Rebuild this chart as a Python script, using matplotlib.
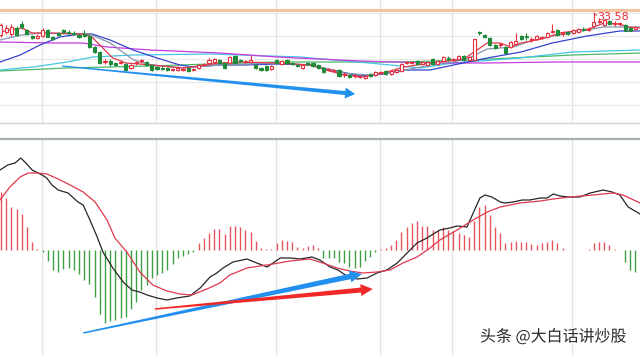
import numpy as np
import matplotlib.pyplot as plt
from matplotlib.patches import Polygon, Rectangle
from matplotlib.transforms import IdentityTransform
import matplotlib.patheffects as pe

# K-line data (price)
opens = [31.38, 31.68, 31.48, 32.08, 32.48, 31.88, 31.28, 31.08, 31.28, 31.88,
         31.18, 31.58, 31.88, 31.68, 31.58, 31.38, 31.48, 31.28, 30.18, 29.68,
         28.68, 28.78, 28.58, 28.58, 28.48, 28.08, 28.58, 28.78, 28.68, 28.38,
         28.18, 28.08, 28.08, 27.88, 27.88, 27.88, 28.08, 27.88, 28.08, 28.38,
         28.58, 28.68, 28.88, 28.58, 28.58, 29.28, 28.88, 28.68, 28.68, 28.38,
         28.08, 28.28, 27.98, 28.88, 28.48, 28.88, 28.58, 28.38, 28.08, 28.58,
         28.58, 28.38, 28.08, 27.88, 27.78, 27.88, 27.38, 27.38, 27.28, 27.18,
         27.08, 27.48, 27.38, 27.58, 27.78, 27.48, 27.68, 27.78, 28.58, 28.58,
         28.78, 28.48, 28.38, 28.98, 28.48, 28.78, 29.08, 28.88, 28.98, 29.28,
         28.88, 28.88, 31.68, 31.38, 31.08, 30.38, 30.38, 30.18, 30.18, 30.48,
         31.28, 31.28, 30.88, 30.98, 31.08, 31.18, 31.68, 31.88, 31.48, 31.68,
         31.58, 31.68, 31.98, 31.88, 32.28, 32.68, 32.38, 32.78, 32.48, 32.48,
         32.38, 32.08, 31.98]
closes = [32.38, 32.08, 32.18, 31.38, 32.18, 31.48, 31.08, 31.28, 31.88, 31.18,
          30.98, 31.38, 31.68, 31.58, 31.48, 31.18, 31.28, 30.18, 29.68, 28.58,
          28.78, 28.48, 28.38, 28.68, 27.88, 28.38, 28.68, 28.88, 28.38, 27.88,
          27.98, 27.98, 27.88, 27.98, 28.08, 27.98, 27.78, 27.98, 28.38, 28.48,
          28.88, 28.98, 28.58, 28.08, 29.18, 28.58, 28.78, 28.78, 28.88, 28.08,
          27.88, 27.88, 28.28, 28.58, 28.78, 28.58, 28.48, 28.28, 28.38, 28.48,
          28.28, 28.08, 27.68, 27.98, 27.88, 27.28, 27.48, 27.18, 27.38, 27.28,
          27.28, 27.28, 27.68, 27.68, 27.48, 27.78, 27.88, 28.48, 28.68, 28.68,
          28.48, 28.68, 28.68, 28.48, 28.78, 29.18, 28.98, 28.98, 29.28, 28.88,
          29.18, 30.98, 31.58, 31.18, 30.38, 30.08, 30.48, 29.58, 30.68, 30.78,
          30.98, 31.18, 30.98, 31.28, 31.18, 31.58, 31.78, 31.38, 31.58, 31.48,
          31.88, 31.98, 31.88, 31.98, 32.68, 32.78, 32.88, 32.48, 32.58, 32.58,
          31.78, 31.78, 32.18]
highs = [32.58, 32.38, 32.48, 32.28, 32.78, 31.98, 31.38, 31.48, 32.08, 31.98,
         31.28, 31.68, 31.98, 31.88, 31.78, 31.48, 31.88, 31.48, 30.28, 29.78,
         28.98, 28.98, 28.68, 28.88, 28.58, 28.48, 28.78, 28.98, 28.78, 28.48,
         28.28, 28.28, 28.18, 28.08, 28.28, 28.08, 28.18, 28.08, 28.48, 28.58,
         29.08, 29.08, 28.98, 28.68, 29.28, 29.38, 28.98, 28.88, 29.38, 28.48,
         28.18, 28.38, 28.38, 28.98, 28.88, 28.98, 28.68, 28.48, 28.48, 28.68,
         28.68, 28.48, 28.18, 28.08, 27.98, 27.98, 27.68, 27.48, 27.48, 27.38,
         27.38, 27.58, 27.78, 27.78, 27.88, 27.88, 27.98, 28.58, 28.78, 28.78,
         28.88, 28.78, 28.78, 29.08, 28.88, 29.28, 29.28, 29.08, 29.38, 29.38,
         29.28, 30.98, 31.78, 31.48, 31.18, 30.48, 30.58, 30.28, 30.78, 31.58,
         31.38, 31.58, 31.18, 31.38, 31.28, 31.68, 32.48, 31.98, 31.78, 31.78,
         31.98, 32.08, 32.18, 32.18, 33.58, 33.08, 32.98, 32.88, 32.78, 32.68,
         32.48, 32.18, 32.28]
lows = [31.18, 31.48, 31.28, 31.28, 31.98, 31.38, 30.98, 30.98, 31.18, 31.18,
        30.88, 31.28, 31.58, 31.48, 31.38, 31.08, 31.18, 30.08, 29.58, 28.48,
        28.48, 28.28, 28.28, 28.48, 27.78, 27.98, 28.38, 28.58, 28.28, 27.78,
        27.88, 27.88, 27.78, 27.78, 27.78, 27.78, 27.68, 27.78, 27.98, 28.28,
        28.48, 28.58, 28.48, 27.98, 28.48, 28.48, 28.68, 28.58, 28.58, 27.98,
        27.78, 27.78, 27.88, 28.48, 28.38, 28.48, 28.38, 28.18, 27.98, 28.38,
        28.18, 27.98, 27.58, 27.78, 27.68, 27.18, 27.18, 27.08, 27.08, 27.08,
        26.98, 27.18, 27.28, 27.48, 27.38, 27.38, 27.58, 27.68, 28.48, 28.48,
        28.38, 28.38, 28.28, 28.38, 28.38, 28.68, 28.78, 28.78, 28.88, 28.78,
        28.78, 28.78, 31.38, 31.08, 30.28, 29.98, 30.18, 29.48, 30.08, 30.38,
        30.88, 30.88, 30.68, 30.88, 30.98, 31.08, 31.58, 31.28, 31.28, 31.38,
        31.48, 31.58, 31.78, 31.78, 32.18, 32.58, 32.28, 32.38, 32.28, 32.28,
        31.78, 31.78, 31.88]

# moving averages (node index, price)
ma5_x = [-0.2, 4, 6, 10, 16, 17.5, 19, 21.5, 24, 29, 35, 39.5, 42, 46.5, 53, 59.5,
         62.5, 66, 69.5, 73.5, 77.5, 82.5, 89, 91, 93.5, 96, 98, 100, 104, 107.5,
         113, 116, 119, 120.5, 122.9]
ma5_y = [31.68, 32.08, 31.58, 31.58, 31.48, 31.18, 30.38, 29.08, 28.58, 28.38,
         28.08, 28.38, 28.58, 28.68, 28.58, 28.38, 27.88, 27.38, 27.18, 27.58,
         28.18, 28.58, 28.98, 29.68, 30.58, 30.58, 30.18, 30.58, 30.98, 31.58,
         31.98, 32.58, 32.48, 32.18, 32.08]
ma10_x = [-0.2, 4, 7.5, 13, 17, 21, 25.5, 29, 35, 42, 53, 59.5, 66, 70.5, 76, 82.5,
          87, 90, 93.5, 98.5, 103, 109.5, 115.8, 120.5, 122.9]
ma10_y = [30.88, 31.38, 31.58, 31.48, 31.48, 30.58, 28.88, 28.38, 28.08, 28.38,
          28.58, 28.38, 27.58, 27.38, 27.68, 28.38, 28.68, 29.08, 29.98, 30.18,
          30.98, 31.58, 32.18, 32.18, 32.18]
ma20_x = [-0.2, 3.7, 7.5, 11.3, 15.2, 17.5, 21, 25.4, 30, 34.4, 37, 42, 46.5, 53,
          59.5, 62, 69, 73.5, 77.3, 82.5, 87, 93.5, 100, 106, 112.7, 119, 122.9]
ma20_y = [28.68, 29.38, 30.38, 31.18, 31.48, 31.48, 30.88, 29.88, 29.08, 28.38,
          28.18, 28.38, 28.38, 28.48, 28.38, 28.08, 27.28, 27.48, 27.88, 27.88,
          28.38, 29.08, 29.68, 30.58, 31.28, 31.78, 31.78]
ma30_x = [-0.2, 9.4, 15.8, 20.4, 28.7, 42.1, 53.1, 69, 82.5, 93.5, 106.2, 122.9]
ma30_y = [30.68, 30.58, 30.58, 30.18, 29.88, 29.58, 29.18, 28.78, 28.58, 28.58,
          28.68, 28.68]
ma60_x = [-0.2, 6.2, 12.7, 17.7, 25.4, 40.2, 57.5, 72.9, 80.6, 86.9, 99.8, 110, 122.9]
ma60_y = [27.88, 28.18, 28.68, 29.18, 29.38, 29.48, 29.18, 28.48, 28.08, 28.58,
          29.08, 29.68, 29.88]
ma120_x = [-0.2, 12.7, 28.7, 40.2, 53.1, 76.7, 90.2, 110, 122.9]
ma120_y = [27.78, 28.08, 28.28, 28.48, 28.68, 28.68, 28.88, 29.38, 29.58]

high_label = "33.58"
ref_price = 33.88
price_grid = [33.58, 31.28, 28.98, 26.68, 24.38]
month_lines = [7.9, 29.8, 52.9, 72.9, 86.7, 109.8]

# MACD
macd_hist = [0.58, 0.52, 0.43, 0.41, 0.36, 0.23, 0.08, 0.01, -0.02, -0.11,
             -0.20, -0.22, -0.19, -0.18, -0.20, -0.24, -0.30, -0.34, -0.47, -0.64,
             -0.73, -0.71, -0.70, -0.68, -0.67, -0.59, -0.52, -0.40, -0.35, -0.28,
             -0.25, -0.23, -0.20, -0.14, -0.08, -0.06, -0.04, -0.02, 0.07, 0.12,
             0.17, 0.21, 0.21, 0.16, 0.24, 0.24, 0.23, 0.20, 0.18, 0.09,
             0.02, 0.01, 0.01, 0.07, 0.10, 0.09, 0.08, 0.03, 0.02, 0.04,
             0.05, 0.02, -0.08, -0.08, -0.08, -0.12, -0.13, -0.17, -0.18, -0.17,
             -0.11, -0.07, -0.02, 0.01, 0.02, 0.05, 0.10, 0.18, 0.23, 0.27,
             0.29, 0.24, 0.24, 0.20, 0.20, 0.23, 0.20, 0.19, 0.17, 0.15,
             0.13, 0.29, 0.43, 0.45, 0.35, 0.23, 0.17, 0.07, 0.08, 0.09,
             0.08, 0.08, 0.06, 0.05, 0.07, 0.08, 0.10, 0.07, 0.02, 0.005,
             0.005, 0.005, 0.005, 0.01, 0.07, 0.08, 0.08, 0.05, 0.01, 0.0,
             -0.12, -0.20, -0.22]
dif_x = [-0.2, 1.3, 2.7, 3.8, 4.6, 6.0, 7.9, 8.8, 9.8, 11.0, 12.9, 14.8, 15.8, 17.1,
         18.5, 19.6, 21.5, 23.5, 25.2, 26.7, 28.1, 30.0, 31.9, 33.8, 35.0, 36.3,
         38.3, 40.2, 41.5, 42.7, 44.6, 47.3, 49.2, 51.2, 53.7, 55.6, 57.5, 59.8,
         61.3, 63.3, 64.8, 66.5, 68.5, 70.4, 72.3, 74.2, 76.2, 78.1, 80.0, 81.9,
         84.4, 86.3, 87.7, 89.6, 90.8, 92.1, 93.1, 94.4, 96.0, 96.9, 98.5, 100.2,
         101.7, 103.7, 105.0, 106.2, 107.5, 109.0, 111.3, 113.3, 115.8, 117.5,
         119.0, 120.6, 122.9]
dif_y = [0.80, 0.85, 0.87, 0.92, 0.88, 0.80, 0.75, 0.72, 0.65, 0.60, 0.57, 0.48,
         0.45, 0.30, 0.13, -0.02, -0.18, -0.32, -0.40, -0.42, -0.45, -0.48, -0.50,
         -0.48, -0.47, -0.46, -0.38, -0.27, -0.23, -0.18, -0.12, -0.09, -0.13,
         -0.17, -0.08, -0.08, -0.09, -0.07, -0.10, -0.17, -0.20, -0.26, -0.29,
         -0.28, -0.23, -0.20, -0.13, -0.03, 0.07, 0.12, 0.20, 0.22, 0.24, 0.23,
         0.37, 0.52, 0.55, 0.53, 0.48, 0.47, 0.48, 0.50, 0.50, 0.52, 0.52, 0.56,
         0.54, 0.53, 0.53, 0.57, 0.60, 0.58, 0.55, 0.43, 0.36]
dea_x = [-0.2, 1.7, 3.7, 5.2, 6.9, 8.8, 11.0, 13.3, 15.8, 18.1, 20.4, 21.9, 24.2,
         26.7, 29.2, 31.9, 34.4, 36.7, 39.6, 42.1, 44.0, 47.3, 49.8, 52.3, 55.6,
         59.4, 61.9, 64.6, 67.1, 69.6, 72.3, 74.8, 77.3, 80.0, 82.5, 84.4, 87.7,
         90.8, 93.5, 96.0, 99.8, 103.7, 106.2, 109.4, 113.8, 117.7, 119.6, 122.9]
dea_y = [0.50, 0.63, 0.73, 0.77, 0.77, 0.76, 0.71, 0.65, 0.58, 0.48, 0.30, 0.12,
         -0.02, -0.22, -0.35, -0.41, -0.44, -0.45, -0.39, -0.33, -0.25, -0.18,
         -0.16, -0.14, -0.11, -0.09, -0.13, -0.18, -0.21, -0.23, -0.22, -0.20,
         -0.13, -0.07, 0.02, 0.10, 0.20, 0.30, 0.38, 0.43, 0.47, 0.49, 0.51,
         0.53, 0.55, 0.57, 0.55, 0.47]

# trend arrows: (start, end) in data units
top_arrow = [(11.7, 28.28), (68.1, 25.48)]
macd_blue_arrow = [(15.8, -0.83), (69.4, -0.24)]
macd_red_arrow = [(29.6, -0.59), (71.5, -0.39)]
watermark = "头条 @大白话讲炒股"

RED = '#e8303c'
GREEN = '#1f8a3a'

fig = plt.figure(figsize=(6.4, 3.55), dpi=100)
ax1 = fig.add_axes([0, 1 - 123 / 355, 1, 123 / 355])
ax2 = fig.add_axes([0, 0, 1, 216 / 355])

for ax in (ax1, ax2):
    ax.set_xlim(-0.19, 122.88)
    ax.set_xticks([])
    ax.set_yticks([])
    for s in ax.spines.values():
        s.set_visible(False)
    for m in month_lines:
        ax.axvline(m, color='#e2e2e2', lw=1, zorder=0)

ax1.set_ylim(22.58, 34.88)
ax2.set_ylim(-1.05, 1.11)
ax1.spines['bottom'].set_visible(True)
ax1.spines['bottom'].set_color('#d4d4d4')
ax1.spines['bottom'].set_linewidth(1)
ax2.spines['top'].set_visible(True)
ax2.spines['top'].set_color('#a9b1b1')
ax2.spines['top'].set_linewidth(1.6)

for g in price_grid:
    ax1.axhline(g, color='#e8e8e8', lw=0.8, zorder=0)
ax1.axhline(ref_price, color='#f4c49c', lw=2.2, zorder=1)

# moving averages
ax1.plot(ma120_x, ma120_y, color='#4cb86a', lw=0.9, zorder=2)
ax1.plot(ma60_x, ma60_y, color='#45c6e2', lw=0.9, zorder=2)
ax1.plot(ma30_x, ma30_y, color='#c43cdc', lw=0.9, zorder=2)
ax1.plot(ma20_x, ma20_y, color='#3344cc', lw=0.9, zorder=2)
ax1.plot(ma10_x, ma10_y, color='#8595ad', lw=0.9, zorder=2)
ax1.plot(ma5_x, ma5_y, color='#e0384e', lw=0.9, zorder=2)

# candles
bw = 0.58
for i, (o, h, l, c) in enumerate(zip(opens, highs, lows, closes)):
    top, bot = max(o, c), min(o, c)
    if c >= o:
        ax1.vlines(i, top, h, color=RED, lw=0.8, zorder=3)
        ax1.vlines(i, l, bot, color=RED, lw=0.8, zorder=3)
        ax1.add_patch(Rectangle((i - bw / 2, bot), bw, max(top - bot, 0.03),
                                facecolor='white', edgecolor=RED, lw=0.8, zorder=4))
    else:
        ax1.vlines(i, l, h, color=GREEN, lw=0.8, zorder=3)
        ax1.add_patch(Rectangle((i - bw / 2, bot), bw, max(top - bot, 0.03),
                                facecolor=GREEN, edgecolor=GREEN, lw=0.8, zorder=4))

hi_i = int(np.argmax(highs))
ax1.plot([hi_i, hi_i + 0.6], [highs[hi_i], highs[hi_i] - 0.25], color=RED, lw=0.6, zorder=5)
ax1.text(hi_i + 0.6, highs[hi_i] - 0.4, high_label, color=RED, fontsize=8,
         ha='left', va='center', zorder=6)

# MACD
xs = np.arange(len(macd_hist))
hist = np.array(macd_hist)
ax2.vlines(xs[hist >= 0], 0, hist[hist >= 0], color='#e8545e', lw=1.0, zorder=2)
ax2.vlines(xs[hist < 0], 0, hist[hist < 0], color='#3e9e42', lw=1.0, zorder=2)
ax2.plot(dif_x, dif_y, color='#262626', lw=0.9, zorder=3)
ax2.plot(dea_x, dea_y, color='#e0384e', lw=0.9, zorder=3)


def tapered_arrow(ax, pts, color, w0, w1, hw, hl):
    p0 = np.array(ax.transData.transform(pts[0]))
    p1 = np.array(ax.transData.transform(pts[1]))
    d = p1 - p0
    u = d / np.hypot(*d)
    n = np.array([-u[1], u[0]])
    pb = p1 - u * hl
    poly = [p0 + n * w0 / 2, pb + n * w1 / 2, pb + n * hw / 2, p1,
            pb - n * hw / 2, pb - n * w1 / 2, p0 - n * w0 / 2]
    fig.add_artist(Polygon(poly, closed=True, facecolor=color, edgecolor='none',
                           transform=IdentityTransform(), zorder=10))


tapered_arrow(ax1, top_arrow, '#2290ee', 1.2, 4.0, 11, 10)
tapered_arrow(ax2, macd_blue_arrow, '#2290ee', 1.5, 5.5, 12, 12)
tapered_arrow(ax2, macd_red_arrow, '#f02828', 1.5, 5.0, 12, 12)

fig.text(0.75, 1 - 337 / 355, watermark, fontsize=11.5, color='#2a2a2a',
         family=['Noto Sans CJK SC', 'DejaVu Sans'], ha='left', va='center',
         path_effects=[pe.withStroke(linewidth=2.5, foreground='white')], zorder=20)

fig.savefig('out.png', dpi=100)
